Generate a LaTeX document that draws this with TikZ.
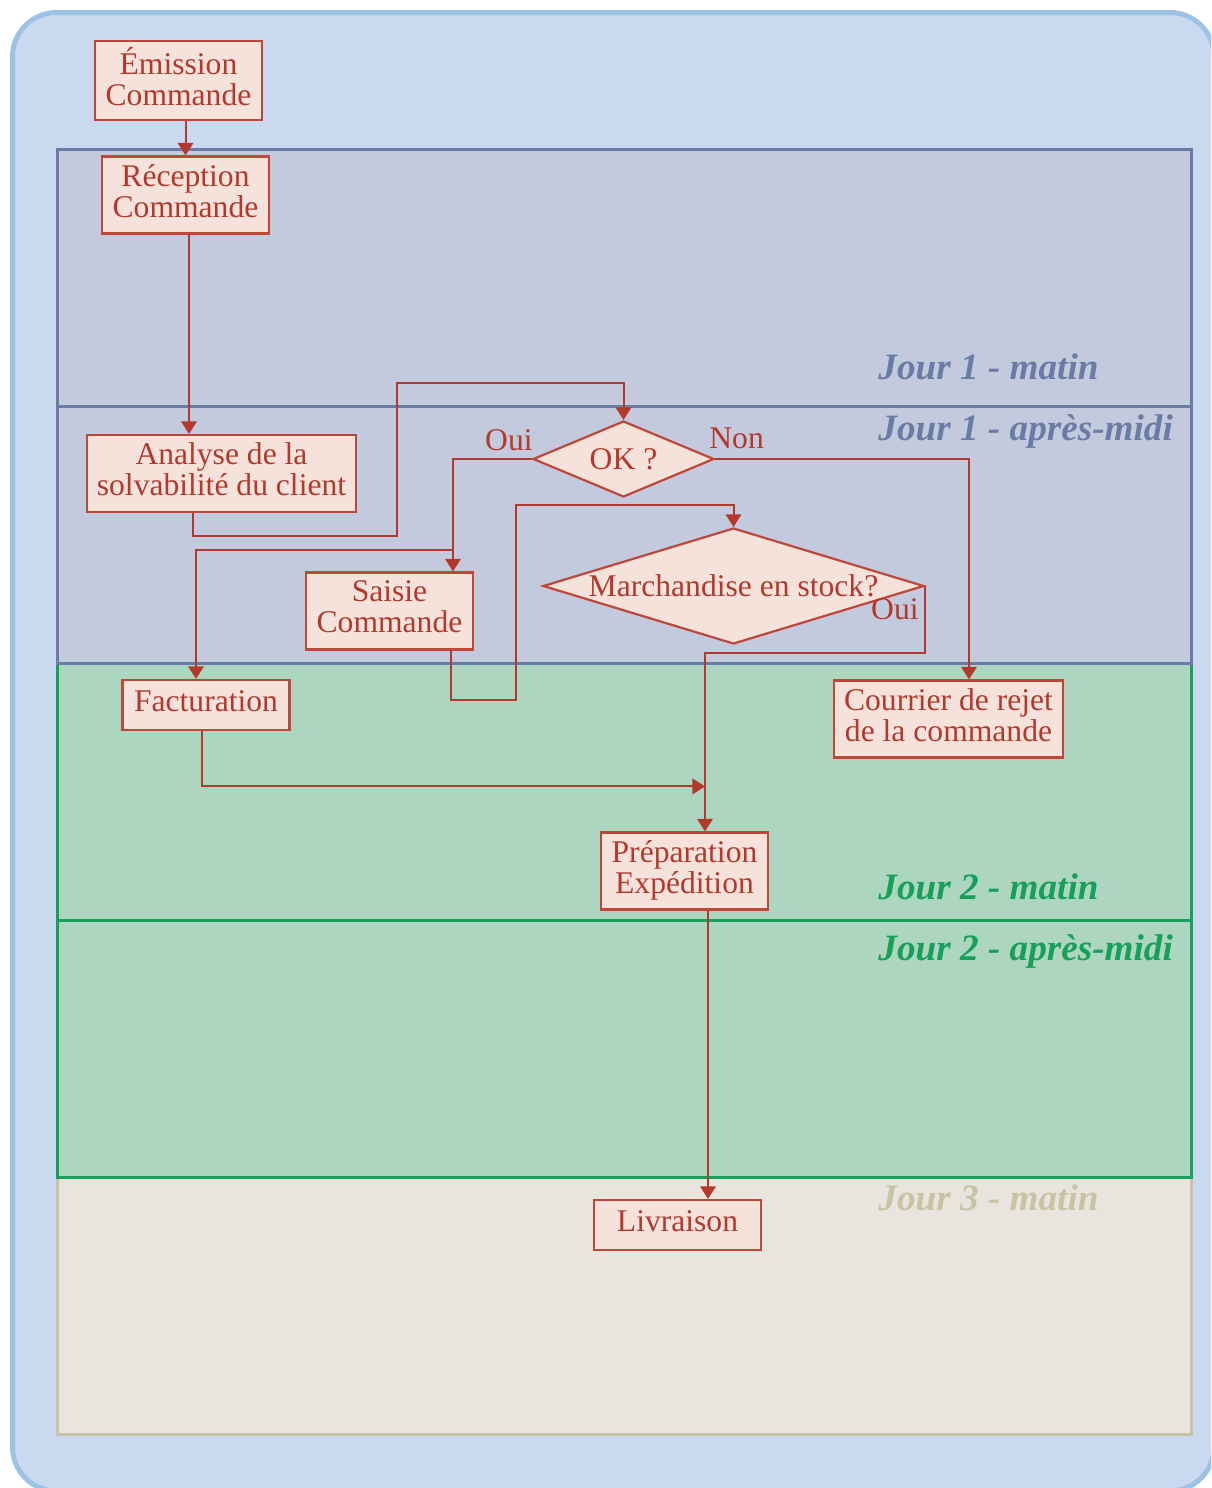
\documentclass[tikz,border=0pt]{standalone}
\usepackage{fontspec}
\setmainfont{Liberation Serif}
\usetikzlibrary{shapes.geometric,arrows.meta,calc}
\definecolor{fondbleu}{HTML}{C9DAF0}
\definecolor{cadrebleu}{HTML}{9CC2E6}
\definecolor{jourunfond}{HTML}{C4CADD}
\definecolor{jouruntrait}{HTML}{6A7CA6}
\definecolor{jourdeuxfond}{HTML}{ADD6C1}
\definecolor{jourdeuxtrait}{HTML}{16A05A}
\definecolor{jourtroisfond}{HTML}{E8E5DF}
\definecolor{jourtroistrait}{HTML}{C9C3A3}
\definecolor{roserouge}{HTML}{F5E2DA}
\definecolor{bordrouge}{HTML}{C0463A}
\definecolor{texterouge}{HTML}{B3392D}

\begin{document}
\begin{tikzpicture}[x=0.5pt,y=-0.5pt,
  forme/.style={draw=bordrouge,fill=roserouge,text=texterouge,line width=1.1pt,
    font=\fontsize{15.8}{15.5}\selectfont,align=center},
  etape/.style={forme,minimum width=83.5pt,minimum height=25pt,inner xsep=5pt,
    execute at end node={\rule[-4pt]{0pt}{4pt}}},
  etape2/.style={etape,minimum height=38.5pt},
  decision/.style={forme,diamond,inner sep=0pt,aspect=2.4},
  flux/.style={draw=texterouge,line width=1pt,-{Triangle[length=6.3pt,width=7.8pt]}},
  jour/.style={font=\fontsize{18.6}{20}\bfseries\itshape\selectfont,anchor=base west,inner sep=0pt},
  choix/.style={text=texterouge,font=\fontsize{15.8}{15.5}\selectfont,inner sep=0pt}]
  \useasboundingbox (0,0) rectangle (1211,1488);
  \clip (0,0) rectangle (1211,1488);
  \filldraw[draw=cadrebleu,fill=fondbleu,line width=2.5pt,rounded corners=22pt] (12.5,12.5) rectangle (1214,1491);
  \filldraw[draw=jourtroistrait,fill=jourtroisfond,line width=1.5pt] (57,1177) rectangle (1191,1434);
  \filldraw[draw=jourdeuxtrait,fill=jourdeuxfond,line width=1.5pt] (57,920) rectangle (1191,1177);
  \filldraw[draw=jourdeuxtrait,fill=jourdeuxfond,line width=1.5pt] (57,663) rectangle (1191,920);
  \filldraw[draw=jouruntrait,fill=jourunfond,line width=1.5pt] (57,406) rectangle (1191,663);
  \filldraw[draw=jouruntrait,fill=jourunfond,line width=1.5pt] (57,149) rectangle (1191,406);

  \node[jour,text=jouruntrait] (j1m) at (878,379) {Jour 1 - matin};
  \node[jour,text=jouruntrait] (j1a) at (878,440) {Jour 1 - après-midi};
  \node[jour,text=jourdeuxtrait] (j2m) at (878,899) {Jour 2 - matin};
  \node[jour,text=jourdeuxtrait] (j2a) at (878,960) {Jour 2 - après-midi};
  \node[jour,text=jourtroistrait] (j3m) at (878,1210) {Jour 3 - matin};

  \node[etape2] (emission) at (178.5,80.5) {Émission\\Commande};
  \node[etape2] (reception) at (185.5,195) {Réception\\Commande};
  \node[etape2] (analyse) at (221.5,473.5) {Analyse de la\\solvabilité du client};
  \node[decision,minimum width=90.5pt,minimum height=38pt] (ok) at (623.5,459) {OK ?};
  \node[etape2] (saisie) at (389.5,611) {Saisie\\Commande};
  \node[decision,aspect=3.3,minimum width=190.5pt,minimum height=58pt] (stock) at (733.5,586) {Marchandise en stock?};
  \node[etape] (facturation) at (206,705) {Facturation};
  \node[etape2] (courrier) at (948.5,719) {Courrier de rejet\\de la commande};
  \node[etape2] (preparation) at (684.5,871) {Préparation\\Expédition};
  \node[etape] (livraison) at (677.5,1225) {Livraison};

  \draw[flux] (reception.north |- emission.south) -- (reception.north);
  \draw[flux] ($(reception.south)+(3.5,0)$) coordinate (r1) -- (r1 |- analyse.north);
  \draw[flux] ($(analyse.south)+(-28.5,0)$) |- (397,536) |- (ok.north |- 0,383) -- (ok.north);
  \draw[flux] (ok.west) -| ($(saisie.north)+(63.5,0)$);
  \draw[flux] (ok.west) -| (453,550) -| ($(facturation.north)+(-10,0)$);
  \draw[flux] (ok.east) -| ($(courrier.north)+(20.5,0)$);
  \draw[flux] ($(saisie.south)+(61.5,0)$) |- (516,700) |- (stock.north |- 0,505) -- (stock.north);
  \draw[flux] (stock.east) |- (705,653) -- ($(preparation.north)+(20.5,0)$);
  \draw[flux] ($(facturation.south)+(-4,0)$) |- ($(preparation.north)+(20.5,-45)$);
  \draw[flux] ($(preparation.south)+(23.5,0)$) coordinate (p1) -- (p1 |- livraison.north);

  \node[choix,anchor=base east] (oui1) at (533,450) {Oui};
  \node[choix,anchor=base west] (non) at (709,448) {Non};
  \node[choix,anchor=base east] (oui2) at (919,619) {Oui};
\end{tikzpicture}
\end{document}
